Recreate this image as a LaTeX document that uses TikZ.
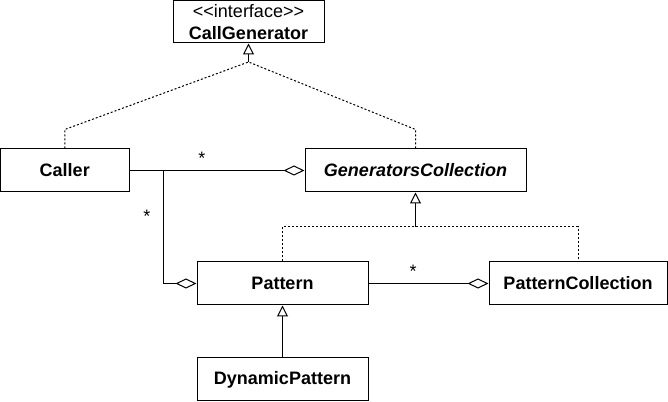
\documentclass[tikz,border=0pt]{standalone}
\usepackage{fontspec}
\setmainfont{Liberation Sans}[Ligatures=TeXOff]
\usetikzlibrary{arrows.meta}
\tikzset{
    umlclass/.style={
    rectangle,draw=black,line width=0.75pt,inner sep=0pt,align=center,
    font=\fontsize{13.5}{16.5}\selectfont\bfseries
    },
    abstract/.style={
    umlclass,font=\fontsize{13.5}{16.5}\selectfont\bfseries\itshape
    },
    realize/.style={
    line width=0.75pt,dash pattern=on 1.5pt off 1.5pt
    },
    inherit/.style={
    line width=0.75pt,-{Triangle[open,length=8.25pt,width=8.25pt]}
    },
    aggr/.style={
    line width=0.75pt,-{Diamond[open,length=15.75pt,width=7.5pt]}
    },
    mult/.style={
    inner sep=0pt,anchor=base,font=\fontsize{13.5}{16.5}\selectfont
    },
}
\begin{document}
\begin{tikzpicture}[x=0.75pt,y=-0.75pt]
   \useasboundingbox (0,0) rectangle (668,402);
   \node[umlclass,minimum width=113.25pt,minimum height=31.5pt] (gen) at (248.5,22) {{\mdseries <<interface>>}\\CallGenerator};
   \node[umlclass,minimum width=96.4pt,minimum height=32.25pt] (caller) at (64.75,170.5) {Caller};
   \node[abstract,minimum width=165.75pt,minimum height=32.25pt] (gcoll) at (415.5,170.5) {GeneratorsCollection};
   \node[umlclass,minimum width=128.25pt,minimum height=32.25pt] (pat) at (282.5,283.5) {Pattern};
   \node[umlclass,minimum width=133.5pt,minimum height=32.25pt] (pcoll) at (578,283.5) {PatternCollection};
   \node[umlclass,minimum width=128.25pt,minimum height=32.25pt] (dpat) at (282.5,379.5) {DynamicPattern};
   \coordinate (j1) at (248.5,62);
   \coordinate (j2) at (415.5,227);
   \node[mult] (m1) at (202,164.5) {*};
   \node[mult] (m2) at (147,222.5) {*};
   \node[mult] (m3) at (413,277.5) {*};

   % realizations
   \draw[realize] (caller.north) -- ++(0,-19) -- (j1);
   \draw[realize] (gcoll.north) -- ++(0,-19) -- (j1);
   \draw[realize] (pat.north) |- (j2) -| (pcoll.north);
   % generalizations
   \draw[inherit] (j1) -- (gen.south);
   \draw[inherit] (j2) -- (gcoll.south);
   \draw[inherit] (dpat) -- (pat);
   % aggregations
   \draw[aggr] (caller) -- (gcoll);
   \draw[aggr] (caller.east) -- ++(34,0) |- (pat.west);
   \draw[aggr] (pat) -- (pcoll);
\end{tikzpicture}
\end{document}
